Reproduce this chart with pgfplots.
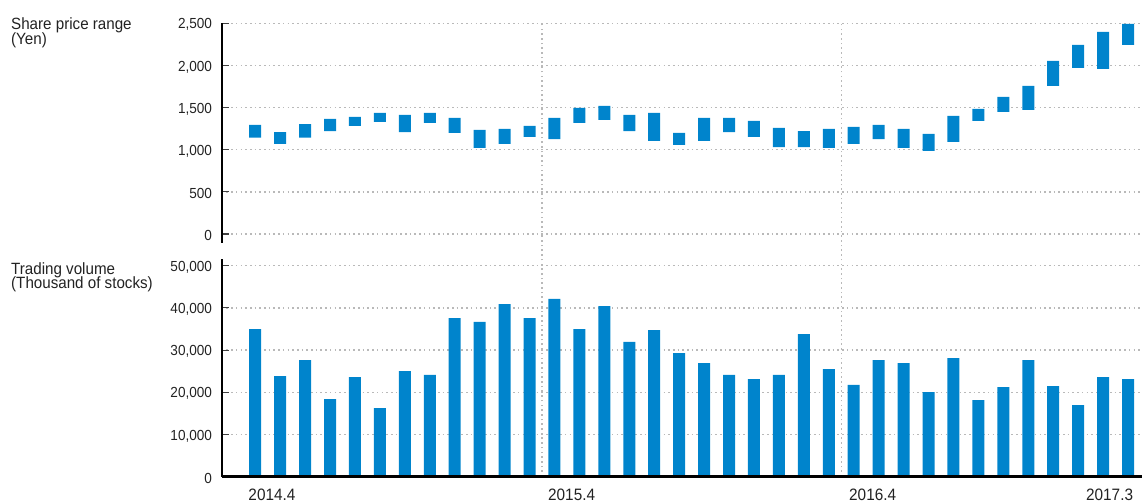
\documentclass[border=0pt]{standalone}
\usepackage{fontspec}
\setmainfont[FakeStretch=0.93]{Liberation Sans}
\usepackage{pgfplots}
\usepackage{pgfplotstable}
\pgfplotsset{compat=1.18}
\definecolor{barblue}{RGB}{0,132,204}
\definecolor{gridgray}{RGB}{185,185,185}
\definecolor{txt}{RGB}{34,34,34}
\tikzset{gline/.style={color=gridgray, line width=1.3pt, dash pattern=on 1.6pt off 3.1pt}}

\pgfplotstableread{
idx low high
0 1143 1294
1 1068 1210
2 1143 1305
3 1222 1365
4 1282 1389
5 1329 1436
6 1210 1412
7 1317 1436
8 1199 1377
9 1021 1234
10 1068 1246
11 1151 1282
12 1127 1377
13 1317 1495
14 1353 1519
15 1222 1412
16 1104 1436
17 1056 1199
18 1104 1377
19 1210 1377
20 1151 1341
21 1032 1258
22 1032 1222
23 1021 1246
24 1068 1270
25 1127 1294
26 1021 1246
27 985 1187
28 1092 1400
29 1341 1484
30 1448 1626
31 1472 1757
32 1757 2053
33 1970 2243
34 1958 2397
35 2243 2492
}\pricetable

\pgfplotstableread{
idx vol
0 35000
1 23860
2 27650
3 18400
4 23620
5 16270
6 25040
7 24100
8 37600
9 36660
10 40920
11 37600
12 42110
13 35000
14 40450
15 31920
16 34760
17 29310
18 26940
19 24100
20 23150
21 24100
22 33810
23 25520
24 21730
25 27650
26 26940
27 20070
28 28120
29 18170
30 21250
31 27650
32 21490
33 16990
34 23620
35 23150
}\voltable

\begin{document}
\begin{tikzpicture}
\pgfplotsset{
  common/.style={
    scale only axis, width=920.3pt,
    xmin=-1.343, xmax=35.56, xtick=\empty,
    ytick pos=left, tick align=inside, major tick length=7pt,
    tick style={color=black!75, line width=1.1pt},
    ymajorgrids,
    major grid style={color=gridgray, line width=1.3pt, dash pattern=on 1.6pt off 3.1pt},
    axis line style={draw=none},
    scaled y ticks=false,
    /pgf/number format/1000 sep={,},
    /pgf/number format/assume math mode=true,
    yticklabel style={anchor=east, inner sep=0pt, xshift=-9.5pt, yshift=-1.5pt, text=txt,
      font=\fontsize{14.6pt}{14.6pt}\selectfont},
    clip=false,
  },
}
% Top: share price range
\begin{axis}[common, at={(221.7pt,259pt)}, anchor=south west, height=219.7pt,
  ymin=-106.8, ymax=2500, ytick={0,500,1000,1500,2000,2500},
  ybar stacked, bar width=12pt]
\addplot[draw=none, fill=none] table[x=idx, y=low] {\pricetable};
\addplot[draw=none, fill=barblue] table[x=idx, y expr=\thisrow{high}-\thisrow{low}] {\pricetable};
\draw[black, line width=1.7pt] (rel axis cs:0,0) -- (rel axis cs:0,1);
\end{axis}
% Bottom: trading volume
\begin{axis}[common, at={(221.7pt,25.3pt)}, anchor=south west, height=217.7pt,
  ymin=0, ymax=51590, ytick={0,10000,20000,30000,40000,50000},
  ybar, bar width=12pt]
\addplot[draw=none, fill=barblue] table[x=idx, y=vol] {\voltable};
\draw[gline] (axis cs:11.5,0) -- (axis cs:11.5,107441);
\draw[gline] (axis cs:23.5,0) -- (axis cs:23.5,107441);
\draw[black, line width=1.7pt] (rel axis cs:0,0) -- (rel axis cs:0,1);
\draw[black, line width=3.4pt] (rel axis cs:0,0) -- (rel axis cs:1,0);
\node[anchor=base west, inner sep=0pt, text=txt, font=\fontsize{16.5pt}{16.5pt}\selectfont] at (axis cs:-0.277,-5690) {2014.4};
\node[anchor=base west, inner sep=0pt, text=txt, font=\fontsize{16.5pt}{16.5pt}\selectfont] at (axis cs:11.74,-5690) {2015.4};
\node[anchor=base west, inner sep=0pt, text=txt, font=\fontsize{16.5pt}{16.5pt}\selectfont] at (axis cs:23.81,-5690) {2016.4};
\node[anchor=base east, inner sep=0pt, text=txt, font=\fontsize{16.5pt}{16.5pt}\selectfont] at (axis cs:35.21,-5690) {2017.3};
\end{axis}
% Titles
\node[anchor=base west, inner sep=0pt, text=txt, font=\fontsize{16.3pt}{14.7pt}\selectfont] at (11pt,472pt) {Share price range};
\node[anchor=base west, inner sep=0pt, text=txt, font=\fontsize{16.3pt}{14.7pt}\selectfont] at (11pt,457.3pt) {(Yen)};
\node[anchor=base west, inner sep=0pt, text=txt, font=\fontsize{16.3pt}{14.7pt}\selectfont] at (11pt,227.7pt) {Trading volume};
\node[anchor=base west, inner sep=0pt, text=txt, font=\fontsize{16.3pt}{14.7pt}\selectfont] at (11pt,213pt) {(Thousand of stocks)};
\pgfresetboundingbox
\useasboundingbox (0pt,0pt) rectangle (1142pt,502pt);
\end{tikzpicture}
\end{document}
